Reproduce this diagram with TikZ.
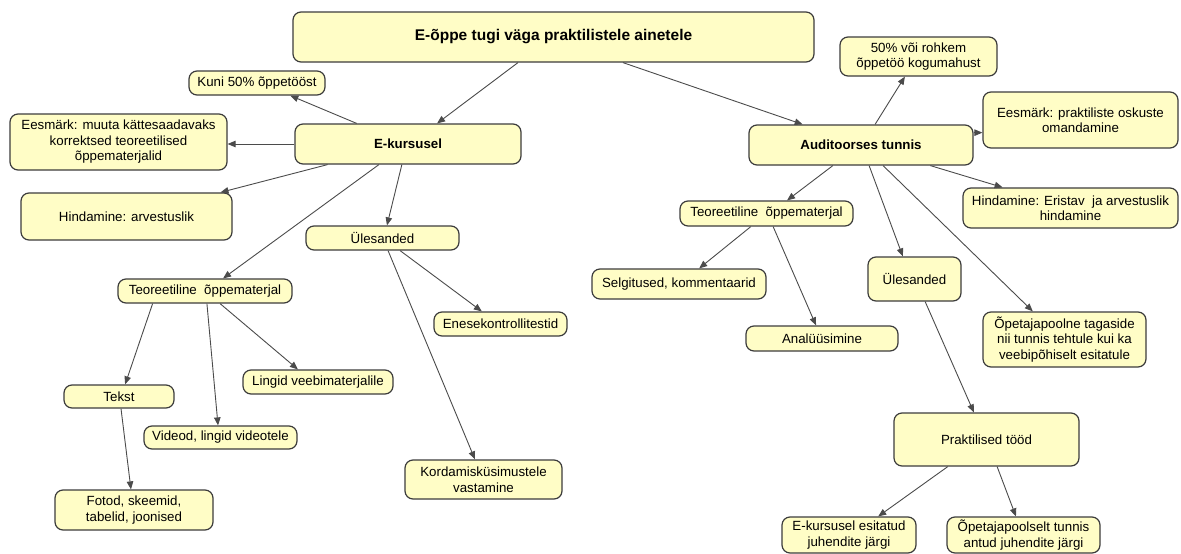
\documentclass[tikz,border=0pt]{standalone}
\usepackage{fontspec}
\setmainfont{Liberation Sans}
\usetikzlibrary{calc,arrows.meta}
\definecolor{boxfill}{RGB}{255,253,198}
\definecolor{boxline}{RGB}{60,60,60}
\definecolor{linkline}{RGB}{75,75,75}
\begin{document}
\begin{tikzpicture}[x=1pt,y=-1pt,
  box/.style={draw=boxline,fill=boxfill,line width=1.2pt,rounded corners=8pt,
    inner sep=1pt,align=center,font=\fontsize{13.3}{15.5}\selectfont},
  conn/.style={draw=linkline,line width=0.9pt,-{Triangle[length=8pt,width=6.5pt]}}]
\useasboundingbox (0,0) rectangle (1181,554);

% left branch: E-kursusel
\node[box,minimum width=521,minimum height=50,font=\fontsize{15.5}{18}\selectfont\bfseries] (top) at (553.5,37) {E-õppe tugi väga praktilistele ainetele};
\node[box,minimum width=136,minimum height=24] (kuni) at (257,83) {Kuni 50\% õppetööst};
\node[box,minimum width=217,minimum height=56] (eesL) at (118.5,142) {Eesmärk: muuta kättesaadavaks\\korrektsed teoreetilised\\õppematerjalid};
\node[box,minimum width=226,minimum height=40,font=\fontsize{13.3}{15.5}\selectfont\bfseries] (ekurs) at (408,144) {E-kursusel};
\node[box,minimum width=211,minimum height=47] (hindL) at (126.5,216.5) {Hindamine: arvestuslik};
\node[box,minimum width=153,minimum height=24] (ylesL) at (382.5,238) {Ülesanded};
\node[box,minimum width=174,minimum height=24] (teorL) at (205,291) {Teoreetiline\ \ õppematerjal};
\node[box,minimum width=133,minimum height=24] (enes) at (500.5,324) {Enesekontrollitestid};
\node[box,minimum width=150,minimum height=24] (lingid) at (318,382) {Lingid veebimaterjalile};
\node[box,minimum width=110,minimum height=23] (tekst) at (119,396.5) {Tekst};
\node[box,minimum width=153,minimum height=23] (videod) at (220.5,437.5) {Videod, lingid videotele};
\node[box,minimum width=157,minimum height=39] (kord) at (483.5,479.5) {Kordamisküsimustele\\vastamine};
\node[box,minimum width=158,minimum height=40] (fotod) at (134,510) {Fotod, skeemid,\\tabelid, joonised};

% right branch: Auditoorses tunnis
\node[box,minimum width=157,minimum height=39] (p50) at (918.5,56.5) {50\% või rohkem\\õppetöö kogumahust};
\node[box,minimum width=195,minimum height=56] (eesR) at (1080.5,120) {Eesmärk: praktiliste oskuste\\omandamine};
\node[box,minimum width=224,minimum height=40,font=\fontsize{13.3}{15.5}\selectfont\bfseries] (aud) at (861,145) {Auditoorses tunnis};
\node[box,minimum width=215,minimum height=40] (hindR) at (1070.5,208) {Hindamine: Eristav\ \ ja arvestuslik\\hindamine};
\node[box,minimum width=173,minimum height=25] (teorR) at (766.5,213.5) {Teoreetiline\ \ õppematerjal};
\node[box,minimum width=93,minimum height=44] (ylesR) at (914.5,279) {Ülesanded};
\node[box,minimum width=174,minimum height=30] (selg) at (679,284) {Selgitused, kommentaarid};
\node[box,minimum width=152,minimum height=25] (anal) at (822,338.5) {Analüüsimine};
\node[box,minimum width=163,minimum height=55] (opet) at (1064.5,339.5) {Õpetajapoolne tagaside\\nii tunnis tehtule kui ka\\veebipõhiselt esitatule};
\node[box,minimum width=185,minimum height=53] (prakt) at (986.5,439.5) {Praktilised tööd};
\node[box,minimum width=134,minimum height=36] (ekEsit) at (849,535) {E-kursusel esitatud\\juhendite järgi};
\node[box,minimum width=153,minimum height=36] (opetSelt) at (1023.5,535) {Õpetajapoolselt tunnis\\antud juhendite järgi};

% connectors from the root
\draw[conn] ($(top.south west)!0.432!(top.south east)$) -- ($(ekurs.north west)!0.628!(ekurs.north east)$);
\draw[conn] ($(top.south west)!0.633!(top.south east)$) -- ($(aud.north west)!0.241!(aud.north east)$);

% connectors of E-kursusel
\draw[conn] ($(ekurs.north west)!0.274!(ekurs.north east)$) -- ($(kuni.south west)!0.743!(kuni.south east)$);
\draw[conn] (ekurs.west) -- (ekurs.west -| eesL.east);
\draw[conn] ($(ekurs.south west)!0.146!(ekurs.south east)$) -- ($(hindL.north west)!0.943!(hindL.north east)$);
\draw[conn] ($(ekurs.south west)!0.372!(ekurs.south east)$) -- ($(teorL.north west)!0.603!(teorL.north east)$);
\draw[conn] ($(ekurs.south west)!0.473!(ekurs.south east)$) -- ($(ylesL.north west)!0.529!(ylesL.north east)$);
\draw[conn] ($(teorL.south west)!0.201!(teorL.south east)$) -- ($(tekst.north west)!0.555!(tekst.north east)$);
\draw[conn] ($(teorL.south west)!0.511!(teorL.south east)$) -- ($(videod.north west)!0.484!(videod.north east)$);
\draw[conn] ($(teorL.south west)!0.586!(teorL.south east)$) -- ($(lingid.north west)!0.367!(lingid.north east)$);
\draw[conn] ($(tekst.south west)!0.518!(tekst.south east)$) -- ($(fotod.north west)!0.481!(fotod.north east)$);
\draw[conn] ($(ylesL.south west)!0.614!(ylesL.south east)$) -- ($(enes.north west)!0.361!(enes.north east)$);
\draw[conn] ($(ylesL.south west)!0.536!(ylesL.south east)$) -- ($(kord.north west)!0.446!(kord.north east)$);

% connectors of Auditoorses tunnis
\coordinate (audR) at ($(aud.north east)!0.2!(aud.south east)$);
\draw[conn] ($(aud.north west)!0.5625!(aud.north east)$) -- ($(p50.south west)!0.414!(p50.south east)$);
\draw[conn] (audR) -- (audR -| eesR.west);
\draw[conn] ($(aud.south west)!0.808!(aud.south east)$) -- ($(hindR.north west)!0.186!(hindR.north east)$);
\draw[conn] ($(aud.south west)!0.375!(aud.south east)$) -- ($(teorR.north west)!0.618!(teorR.north east)$);
\draw[conn] ($(aud.south west)!0.536!(aud.south east)$) -- ($(ylesR.north west)!0.376!(ylesR.north east)$);
\draw[conn] ($(aud.south west)!0.598!(aud.south east)$) -- ($(opet.north west)!0.307!(opet.north east)$);
\draw[conn] ($(teorR.south west)!0.41!(teorR.south east)$) -- ($(selg.north west)!0.615!(selg.north east)$);
\draw[conn] ($(teorR.south west)!0.538!(teorR.south east)$) -- ($(anal.north west)!0.461!(anal.north east)$);
\draw[conn] ($(ylesR.south west)!0.613!(ylesR.south east)$) -- ($(prakt.north west)!0.432!(prakt.north east)$);
\draw[conn] ($(prakt.south west)!0.292!(prakt.south east)$) -- ($(ekEsit.north west)!0.716!(ekEsit.north east)$);
\draw[conn] ($(prakt.south west)!0.557!(prakt.south east)$) -- ($(opetSelt.north west)!0.451!(opetSelt.north east)$);
\end{tikzpicture}
\end{document}
